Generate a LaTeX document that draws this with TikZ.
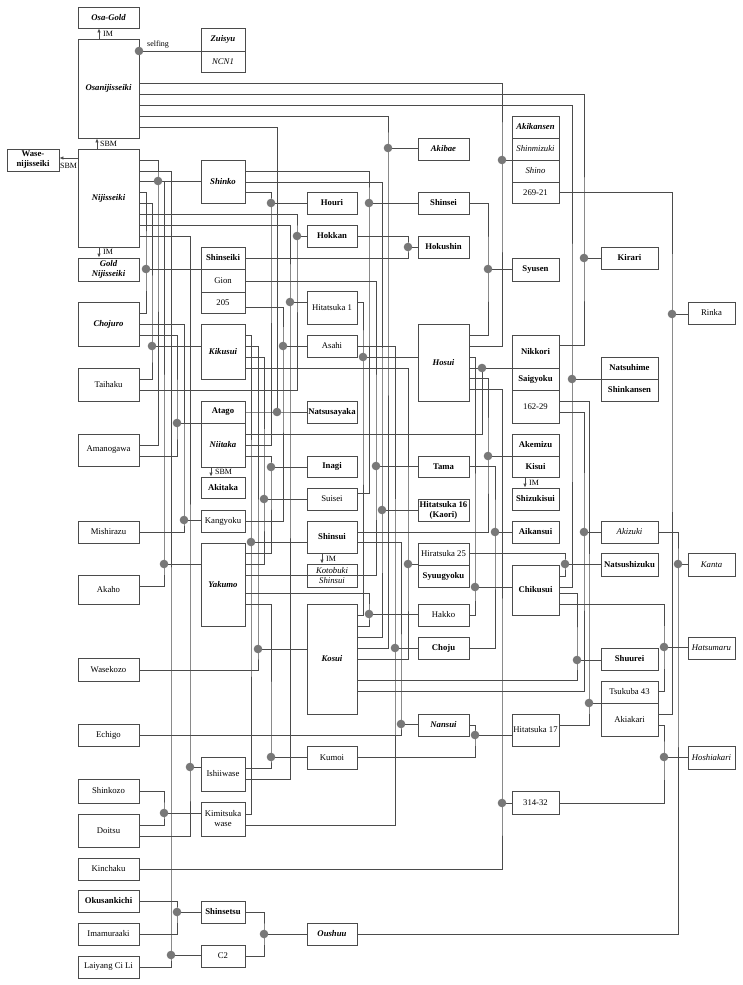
\documentclass[tikz,border=0pt]{standalone}
\usepackage{fontspec}
\setmainfont{Liberation Serif}
\usetikzlibrary{arrows.meta}
\definecolor{lnc}{RGB}{75,75,75}
\definecolor{dotc}{RGB}{120,120,120}
\newcommand\pbox[7]{%
  \pgfmathsetmacro\pcx{(#2+#4)/2}\pgfmathsetmacro\pcy{(#3+#5)/2}%
  \pgfmathsetmacro\pw{#4-#2}\pgfmathsetmacro\ph{#5-#3}%
  \node[bx,#6,minimum width=\pw pt,minimum height=\ph pt] (#1) at (\pcx,\pcy) {#7};}
\begin{document}
\begin{tikzpicture}[x=1pt,y=-1pt,
  bx/.style={draw=lnc,line width=0.8pt,inner sep=0pt,align=center,font=\fontsize{8.7}{10}\selectfont},
  bi/.style={font=\fontsize{8.7}{10}\selectfont\bfseries\itshape},
  bo/.style={font=\fontsize{8.7}{10}\selectfont\bfseries},
  it/.style={font=\fontsize{8.7}{10}\selectfont\itshape},
  rg/.style={},
  ln/.style={draw=lnc,line width=0.8pt},
  ar/.style={ln,-{Latex[length=4pt,width=3.5pt]}},
  lab/.style={font=\fontsize{8}{9}\selectfont,inner sep=0pt,anchor=west}]
\useasboundingbox (0,0) rectangle (742,985);
% ---------- column 1
\pbox{OsaGold}{78}{7}{139}{28}{bi}{Osa-Gold}
\pbox{Osa}{78}{39}{139}{138}{bi}{Osanijisseiki}
\pbox{Nij}{78}{149}{139}{247}{bi}{Nijisseiki}
\pbox{Wase}{7}{149}{59}{171}{bo}{Wase-\\nijisseiki}
\pbox{GoldN}{78}{258}{139}{281}{bi}{Gold\\Nijisseiki}
\pbox{Chojuro}{78}{302}{139}{346}{bi}{Chojuro}
\pbox{Taihaku}{78}{368}{139}{401}{rg}{Taihaku}
\pbox{Amanogawa}{78}{434}{139}{466}{rg}{Amanogawa}
\pbox{Mishirazu}{78}{521}{139}{543}{rg}{Mishirazu}
\pbox{Akaho}{78}{575}{139}{604}{rg}{Akaho}
\pbox{Wasekozo}{78}{658}{139}{681}{rg}{Wasekozo}
\pbox{Echigo}{78}{724}{139}{746}{rg}{Echigo}
\pbox{Shinkozo}{78}{779}{139}{803}{rg}{Shinkozo}
\pbox{Doitsu}{78}{814}{139}{847}{rg}{Doitsu}
\pbox{Kinchaku}{78}{858}{139}{880}{rg}{Kinchaku}
\pbox{Okusan}{78}{890}{139}{912}{bo}{Okusankichi}
\pbox{Imamura}{78}{923}{139}{945}{rg}{Imamuraaki}
\pbox{Laiyang}{78}{956}{139}{978}{rg}{Laiyang Ci Li}
% ---------- column 2
\pbox{Zuisyu}{201}{28}{245}{51}{bi}{Zuisyu}
\pbox{NCN}{201}{51}{245}{72}{it}{NCN1}
\pbox{Shinko}{201}{160}{245}{203}{bi}{Shinko}
\pbox{Shinseiki}{201}{247}{245}{269}{bo}{Shinseiki}
\pbox{Gion}{201}{269}{245}{292}{rg}{Gion}
\pbox{B205}{201}{292}{245}{313}{rg}{205}
\pbox{Kikusui}{201}{324}{245}{379}{bi}{Kikusui}
\pbox{Atago}{201}{401}{245}{423}{bo}{Atago}
\pbox{Niitaka}{201}{423}{245}{467}{bi}{Niitaka}
\pbox{Akitaka}{201}{477}{245}{498}{bo}{Akitaka}
\pbox{Kangyoku}{201}{510}{245}{532}{rg}{Kangyoku}
\pbox{Yakumo}{201}{543}{245}{626}{bi}{Yakumo}
\pbox{Ishiiwase}{201}{757}{245}{791}{rg}{Ishiiwase}
\pbox{Kimitsuka}{201}{802}{245}{836}{rg}{Kimitsuka\\wase}
\pbox{Shinsetsu}{201}{901}{245}{923}{bo}{Shinsetsu}
\pbox{Ctwo}{201}{945}{245}{967}{rg}{C2}
% ---------- column 3
\pbox{Houri}{307}{192}{357}{214}{bo}{Houri}
\pbox{Hokkan}{307}{225}{357}{247}{bo}{Hokkan}
\pbox{Hit1}{307}{291}{357}{324}{rg}{Hitatsuka 1}
\pbox{Asahi}{307}{335}{357}{357}{rg}{Asahi}
\pbox{Natsusa}{307}{401}{357}{423}{bo}{Natsusayaka}
\pbox{Inagi}{307}{456}{357}{477}{bo}{Inagi}
\pbox{Suisei}{307}{488}{357}{510}{rg}{Suisei}
\pbox{Shinsui}{307}{521}{357}{553}{bo}{Shinsui}
\pbox{Kotobuki}{307}{564}{357}{587}{it}{Kotobuki\\Shinsui}
\pbox{Kosui}{307}{604}{357}{714}{bi}{Kosui}
\pbox{Kumoi}{307}{746}{357}{769}{rg}{Kumoi}
\pbox{Oushuu}{307}{923}{357}{945}{bi}{Oushuu}
% ---------- column 4
\pbox{Akibae}{418}{138}{469}{160}{bi}{Akibae}
\pbox{Shinsei}{418}{192}{469}{214}{bo}{Shinsei}
\pbox{Hokushin}{418}{236}{469}{258}{bo}{Hokushin}
\pbox{Hosui}{418}{324}{469}{401}{bi}{Hosui}
\pbox{Tama}{418}{456}{469}{477}{bo}{Tama}
\pbox{Hit16}{418}{499}{469}{521}{bo}{Hitatsuka 16\\(Kaori)}
\pbox{Hir25}{418}{543}{469}{565}{rg}{Hiratsuka 25}
\pbox{Syuugyoku}{418}{565}{469}{587}{bo}{Syuugyoku}
\pbox{Hakko}{418}{604}{469}{626}{rg}{Hakko}
\pbox{Choju}{418}{637}{469}{659}{bo}{Choju}
\pbox{Nansui}{418}{714}{469}{736}{bi}{Nansui}
% ---------- column 5
\pbox{Akikansen}{512}{116}{559}{138}{bi}{Akikansen}
\pbox{Shinmizuki}{512}{138}{559}{160}{it}{Shinmizuki}
\pbox{Shino}{512}{160}{559}{182}{it}{Shino}
\pbox{B26921}{512}{182}{559}{203}{rg}{269-21}
\pbox{Syusen}{512}{258}{559}{281}{bo}{Syusen}
\pbox{Nikkori}{512}{335}{559}{368}{bo}{Nikkori}
\pbox{Saigyoku}{512}{368}{559}{390}{bo}{Saigyoku}
\pbox{B16229}{512}{390}{559}{423}{rg}{162-29}
\pbox{Akemizu}{512}{434}{559}{456}{bo}{Akemizu}
\pbox{Kisui}{512}{456}{559}{477}{bo}{Kisui}
\pbox{Shizukisui}{512}{488}{559}{510}{bo}{Shizukisui}
\pbox{Aikansui}{512}{521}{559}{543}{bo}{Aikansui}
\pbox{Chikusui}{512}{565}{559}{615}{bo}{Chikusui}
\pbox{Hit17}{512}{714}{559}{746}{rg}{Hitatsuka 17}
\pbox{B31432}{512}{791}{559}{814}{rg}{314-32}
% ---------- column 6
\pbox{Kirari}{601}{247}{658}{269}{bo}{Kirari}
\pbox{Natsuhime}{601}{357}{658}{379}{bo}{Natsuhime}
\pbox{Shinkansen}{601}{379}{658}{401}{bo}{Shinkansen}
\pbox{Akizuki}{601}{521}{658}{543}{it}{Akizuki}
\pbox{Natsushi}{601}{553}{658}{576}{bo}{Natsushizuku}
\pbox{Shuurei}{601}{648}{658}{670}{bo}{Shuurei}
\pbox{Tsukuba}{601}{681}{658}{703}{rg}{Tsukuba 43}
\pbox{Akiakari}{601}{703}{658}{736}{rg}{Akiakari}
% ---------- column 7
\pbox{Rinka}{688}{302}{735}{324}{rg}{Rinka}
\pbox{Kanta}{688}{553}{735}{576}{it}{Kanta}
\pbox{Hatsumaru}{688}{637}{735}{659}{it}{Hatsumaru}
\pbox{Hoshiakari}{688}{746}{735}{769}{it}{Hoshiakari}
% ---------- mutation / selection arrows
\draw[ar] (Osa.north -| 99,0) -- (OsaGold.south -| 99,0);
\node[lab] (lIM1) at (103,34) {IM};
\draw[ar] (Nij.north -| 97,0) -- (Osa.south -| 97,0);
\node[lab] (lSBM1) at (100,144) {SBM};
\draw[ar] (Nij.west |- 0,158) -- (Wase.east |- 0,158);
\node[lab] (lSBM2) at (60,166) {SBM};
\draw[ar] (Nij.south -| 99,0) -- (GoldN.north -| 99,0);
\node[lab] (lIM2) at (103,252) {IM};
\draw[ar] (Niitaka.south -| 211,0) -- (Akitaka.north -| 211,0);
\node[lab] (lSBM3) at (215,472) {SBM};
\draw[ar] (Shinsui.south -| 322,0) -- (Kotobuki.north -| 322,0);
\node[lab] (lIM3) at (326,559) {IM};
\draw[ar] (Kisui.south -| 525,0) -- (Shizukisui.north -| 525,0);
\node[lab] (lIM4) at (529,483) {IM};
\node[lab] (lself) at (147,45) {selfing};
% ---------- junction dots
\foreach \n/\x/\y in {dZui/139/51,dShinko/158/181,dHouri/271/203,dShinsei/369/203,
  dAkibae/388/148,dAkikan/502/160,dHokkan/297/236,dHokushin/408/247,dSyusen/488/269,
  dKirari/584/258,dShinseiki/146/269,dKikusui/152/346,dNiitaka/177/423,dHit1/290/302,
  dAsahi/283/346,dHosui/363/357,dNatsusa/277/412,dInagi/271/467,dTama/376/466,
  dAkemizu/488/456,dSaigyoku/482/368,dNatsuhime/572/379,dRinka/672/314,
  dKangyoku/184/520,dYakumo/164/564,dSuisei/264/499,dShinsui/251/542,dHit16/382/510,
  dHir25/408/564,dHakko/369/614,dChoju/395/648,dKosui/258/649,dNansui/401/724,
  dHitseventeen/475/735,dChikusui/475/587,dAikansui/495/532,dAkizuki/584/532,
  dNatsushi/565/564,dKanta/678/564,dHatsu/664/647,dShuurei/577/660,dTsukuba/589/703,
  dHoshi/664/757,dThreeOneFour/502/803,dKimitsuka/164/813,dIshii/190/767,
  dShinsetsu/177/912,dCtwo/171/955,dKumoi/271/757,dOushuu/264/934}
  {\coordinate (\n) at (\x,\y);}
% ---------- connectors
% Osanijisseiki
\draw[ln] (dZui) -- (dZui -| Zuisyu.west);
\draw[ln] (Osa.east|-0,83) -| (dAkikan) |- (Hosui.east|-0,346);
\draw[ln] (dAkikan) -- (dAkikan -| Akikansen.west);
\draw[ln] (Osa.east|-0,94) -| (dKirari) |- (Nikkori.east|-0,345);
\draw[ln] (dKirari) -- (dKirari -| Kirari.west);
\draw[ln] (Osa.east|-0,105) -| (dNatsuhime) |- (Chikusui.east|-0,587);
\draw[ln] (dNatsuhime) -- (dNatsuhime -| Natsuhime.west);
\draw[ln] (Osa.east|-0,116) -| (dAkibae) |- (Kosui.east|-0,648);
\draw[ln] (dAkibae) -- (dAkibae -| Akibae.west);
\draw[ln] (Osa.east|-0,127) -| (dNatsusa);
\draw[ln] (Atago.east|-dNatsusa) -- (dNatsusa) -- (dNatsusa -| Natsusa.west);
% Nijisseiki
\draw[ln] (Nij.east|-0,160) -| (dShinko) |- (Amanogawa.east|-0,445);
\draw[ln] (dShinko) -- (dShinko -| Shinko.west);
\draw[ln] (Nij.east|-0,171) -| (dCtwo) |- (Laiyang.east|-0,967);
\draw[ln] (dCtwo) -- (dCtwo -| Ctwo.west);
\draw[ln] (Nij.east|-0,181) -| (dYakumo) |- (Akaho.east|-0,586);
\draw[ln] (dYakumo) -- (dYakumo -| Yakumo.west);
\draw[ln] (Nij.east|-0,192) -| (dShinseiki) |- (Chojuro.east|-0,313);
\draw[ln] (dShinseiki) -- (dShinseiki -| Shinseiki.west);
\draw[ln] (Nij.east|-0,203) -| (dKikusui) |- (Taihaku.east|-0,379);
\draw[ln] (dKikusui) -- (dKikusui -| Kikusui.west);
\draw[ln] (Nij.east|-0,214) -| (dHokkan) |- (Taihaku.east|-0,390);
\draw[ln] (dHokkan) -- (dHokkan -| Hokkan.west);
\draw[ln] (Nij.east|-0,225) -| (dHit1) |- (Ishiiwase.east|-0,779);
\draw[ln] (dHit1) -- (dHit1 -| Hit1.west);
\draw[ln] (Nij.east|-0,236) -| (dIshii) |- (Doitsu.east|-0,836);
\draw[ln] (dIshii) -- (dIshii -| Ishiiwase.west);
% Chojuro
\draw[ln] (Chojuro.east|-0,324) -| (dKangyoku) |- (Mishirazu.east|-0,532);
\draw[ln] (dKangyoku) -- (dKangyoku -| Kangyoku.west);
\draw[ln] (Chojuro.east|-0,335) -| (dNiitaka) |- (Amanogawa.east|-0,456);
\draw[ln] (dNiitaka) -- (dNiitaka -| Atago.west);
% lower left
\draw[ln] (Shinkozo.east|-0,791) -| (dKimitsuka) |- (Doitsu.east|-0,825);
\draw[ln] (dKimitsuka) -- (dKimitsuka -| Kimitsuka.west);
\draw[ln] (Okusan.east|-0,901) -| (dShinsetsu) |- (Imamura.east|-0,934);
\draw[ln] (dShinsetsu) -- (dShinsetsu -| Shinsetsu.west);
\draw[ln] (Shinsetsu.east|-0,912) -| (dOushuu) |- (Ctwo.east|-0,956);
\draw[ln] (dOushuu) -- (dOushuu -| Oushuu.west);
\draw[ln] (Oushuu.east|-0,934) -| (dKanta) |- (Akizuki.east|-0,532);
\draw[ln] (dKanta) -- (dKanta -| Kanta.west);
% Kikusui
\draw[ln] (Kikusui.east|-0,335) -| (dShinsui) |- (Kimitsuka.east|-0,814);
\draw[ln] (dShinsui) -- (dShinsui -| Shinsui.west);
\draw[ln] (Kikusui.east|-0,346) -| (dKosui) |- (Wasekozo.east|-0,670);
\draw[ln] (dKosui) -- (dKosui -| Kosui.west);
\draw[ln] (Kikusui.east|-0,357) -| (dSuisei) |- (Yakumo.east|-0,564);
\draw[ln] (dSuisei) -- (dSuisei -| Suisei.west);
\draw[ln] (Kikusui.east|-0,368) -| (dHir25) |- (Kosui.east|-0,659);
\draw[ln] (dHir25) -- (dHir25 -| Hir25.west);
% Shinko
\draw[ln] (Shinko.east|-0,171) -| (dShinsei) |- (Suisei.east|-0,493);
\draw[ln] (dShinsei) -- (dShinsei -| Shinsei.west);
\draw[ln] (Shinko.east|-0,182) -| (dHit16) |- (Kosui.east|-0,637);
\draw[ln] (dHit16) -- (dHit16 -| Hit16.west);
\draw[ln] (Shinko.east|-0,192) -| (dHouri) |- (Niitaka.east|-0,445);
\draw[ln] (dHouri) -- (dHouri -| Houri.west);
% middle
\draw[ln] (Hokkan.east|-0,236) -| (dHokushin) |- (Shinseiki.east|-0,258);
\draw[ln] (dHokushin) -- (dHokushin -| Hokushin.west);
\draw[ln] (Shinsei.east|-0,203) -| (dSyusen) |- (Hosui.east|-0,335);
\draw[ln] (dSyusen) -- (dSyusen -| Syusen.west);
\draw[ln] (Hit1.east|-0,302) -| (dHosui) |- (Kosui.east|-0,615);
\draw[ln] (dHosui) -- (dHosui -| Hosui.west);
\draw[ln] (B205.east|-0,307) -| (dAsahi) |- (Kangyoku.east|-0,521);
\draw[ln] (dAsahi) -- (dAsahi -| Asahi.west);
\draw[ln] (Asahi.east|-0,346) -| (dChoju) |- (Kimitsuka.east|-0,825);
\draw[ln] (dChoju) -- (dChoju -| Choju.west);
\draw[ln] (Gion.east|-0,281) -| (dTama) |- (Yakumo.east|-0,575);
\draw[ln] (dTama) -- (dTama -| Tama.west);
\draw[ln] (Niitaka.east|-0,456) -| (dInagi) |- (Yakumo.east|-0,553);
\draw[ln] (dInagi) -- (dInagi -| Inagi.west);
\draw[ln] (Yakumo.east|-0,593) -| (dHakko) |- (Kosui.east|-0,626);
\draw[ln] (dHakko) -- (dHakko -| Hakko.west);
\draw[ln] (Yakumo.east|-0,604) -| (dKumoi) |- (Ishiiwase.east|-0,768);
\draw[ln] (dKumoi) -- (dKumoi -| Kumoi.west);
\draw[ln] (Shinsui.east|-0,542) -| (dNansui) |- (Echigo.east|-0,735);
\draw[ln] (dNansui) -- (dNansui -| Nansui.west);
% Hosui children
\draw[ln] (Hosui.east|-0,378) -| (dAkemizu) |- (Shinsui.east|-0,532);
\draw[ln] (dAkemizu) -- (dAkemizu -| Akemizu.west);
\draw[ln] (Hosui.east|-0,368) -- (dSaigyoku) |- (Niitaka.east|-0,434);
\draw[ln] (dSaigyoku) -- (dSaigyoku -| Saigyoku.west);
\draw[ln] (Hosui.east|-0,357) -| (dChikusui) |- (Hakko.east|-0,615);
\draw[ln] (dChikusui) -- (dChikusui -| Chikusui.west);
\draw[ln] (Hosui.east|-0,389) -| (dThreeOneFour) |- (Kinchaku.east|-0,869);
\draw[ln] (dThreeOneFour) -- (dThreeOneFour -| B31432.west);
\draw[ln] (Tama.east|-0,466) -| (dAikansui) |- (Choju.east|-0,648);
\draw[ln] (dAikansui) -- (dAikansui -| Aikansui.west);
\draw[ln] (Nansui.east|-0,725) -| (dHitseventeen) |- (Kumoi.east|-0,757);
\draw[ln] (dHitseventeen) -- (dHitseventeen -| Hit17.west);
% right part
\draw[ln] (Hir25.east|-0,553) -| (dNatsushi) |- (Chikusui.east|-0,576);
\draw[ln] (dNatsushi) -- (dNatsushi -| Natsushi.west);
\draw[ln] (B16229.east|-0,412) -| (dAkizuki) |- (Kosui.east|-0,691);
\draw[ln] (dAkizuki) -- (dAkizuki -| Akizuki.west);
\draw[ln] (B16229.east|-0,401) -| (dTsukuba) |- (Hit17.east|-0,725);
\draw[ln] (dTsukuba) -- (dTsukuba -| Tsukuba.west);
\draw[ln] (Chikusui.east|-0,593) -| (dShuurei) |- (Kosui.east|-0,680);
\draw[ln] (dShuurei) -- (dShuurei -| Shuurei.west);
\draw[ln] (Chikusui.east|-0,604) -| (dHatsu) |- (Tsukuba.east|-0,691);
\draw[ln] (dHatsu) -- (dHatsu -| Hatsumaru.west);
\draw[ln] (Akiakari.east|-0,725) -| (dHoshi) |- (B31432.east|-0,803);
\draw[ln] (dHoshi) -- (dHoshi -| Hoshiakari.west);
\draw[ln] (B26921.east|-0,192) -| (dRinka) |- (Akiakari.east|-0,714);
\draw[ln] (dRinka) -- (dRinka -| Rinka.west);
% dots on top
\foreach \n in {dZui,dShinko,dHouri,dShinsei,dAkibae,dAkikan,dHokkan,dHokushin,dSyusen,
  dKirari,dShinseiki,dKikusui,dNiitaka,dHit1,dAsahi,dHosui,dNatsusa,dInagi,dTama,
  dAkemizu,dSaigyoku,dNatsuhime,dRinka,dKangyoku,dYakumo,dSuisei,dShinsui,dHit16,
  dHir25,dHakko,dChoju,dKosui,dNansui,dHitseventeen,dChikusui,dAikansui,dAkizuki,
  dNatsushi,dKanta,dHatsu,dShuurei,dTsukuba,dHoshi,dThreeOneFour,dKimitsuka,dIshii,
  dShinsetsu,dCtwo,dKumoi,dOushuu}
  {\fill[dotc] (\n) circle (4.3pt);}
\end{tikzpicture}
\end{document}
